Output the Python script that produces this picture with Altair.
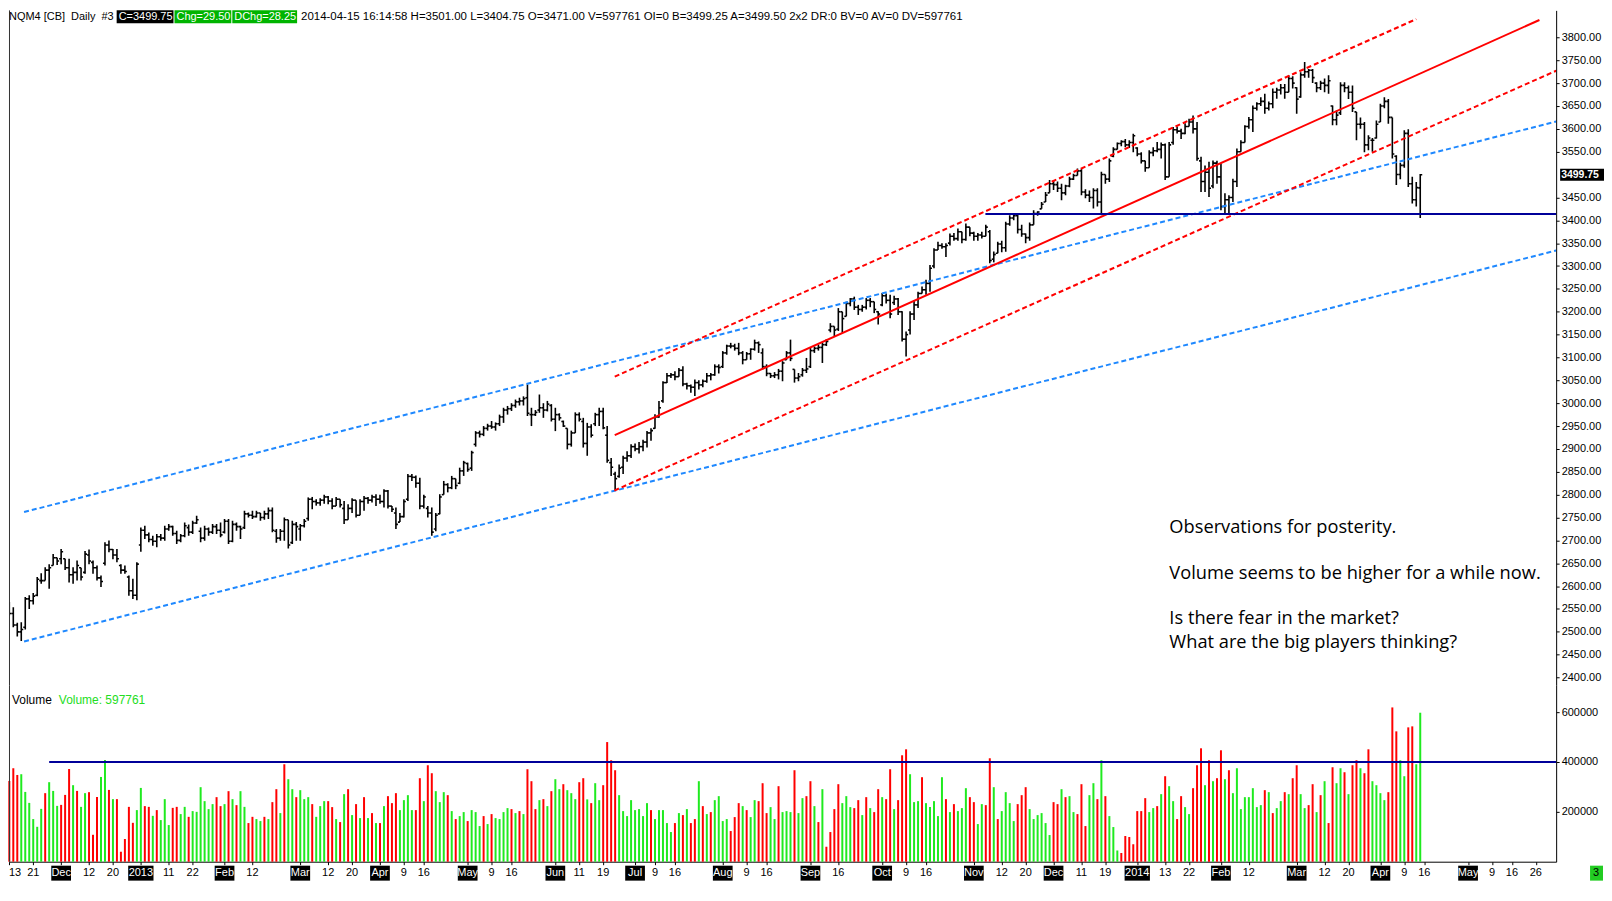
import altair as alt
import pandas as pd

# ---------------- data: daily OHLC bars, NQM4 (O, H, L, C) ----------------
NOV12 = [(2560,2565,2536,2540),(2540,2554,2510,2515),(2515,2520,2490,2500),(2500,2521,2480,2505),
         (2510,2576,2505,2572),(2572,2580,2550,2568),(2568,2585,2560,2578),(2580,2620,2578,2615),
         (2612,2628,2605,2612),(2612,2641,2612,2635),(2635,2648,2594,2640),(2645,2670,2645,2662),
         (2662,2662,2646,2655)]
DEC12 = [(2660,2681,2648,2675),(2660,2660,2635,2640),(2640,2660,2608,2625),(2625,2641,2605,2630),
         (2630,2656,2612,2645),(2640,2640,2612,2620),(2630,2677,2627,2670),(2668,2680,2648,2655),
         (2652,2656,2627,2640),(2640,2645,2612,2618),(2618,2623,2598,2610),(2650,2696,2645,2690),
         (2690,2700,2674,2680),(2680,2681,2659,2668),(2668,2681,2652,2660),(2645,2648,2627,2635),
         (2635,2645,2627,2632),(2620,2623,2579,2590),(2590,2616,2572,2580),(2580,2652,2569,2648)]
JAN13 = [(2690,2728,2675,2722),(2722,2732,2703,2712),(2712,2717,2696,2702),(2702,2710,2688,2698),
         (2698,2714,2685,2708),(2708,2714,2699,2705),(2705,2732,2699,2725),(2725,2736,2721,2730),
         (2730,2732,2710,2715),(2715,2721,2692,2700),(2700,2714,2696,2710),(2710,2739,2707,2732),
         (2728,2735,2710,2718),(2718,2743,2714,2738),(2738,2754,2736,2745),(2720,2728,2696,2705),
         (2705,2732,2699,2725),(2725,2728,2710,2718),(2718,2736,2714,2730),(2730,2736,2714,2722),
         (2722,2739,2707,2712)]
FEB13 = [(2718,2747,2715,2742),(2742,2747,2692,2698),(2698,2743,2696,2735),(2735,2739,2721,2730),
         (2730,2732,2703,2725),(2728,2765,2725,2758),(2758,2761,2750,2755),(2755,2765,2747,2752),
         (2752,2765,2750,2760),(2760,2760,2743,2750),(2750,2765,2745,2758),(2758,2772,2747,2765),
         (2765,2772,2718,2722),(2720,2725,2695,2705),(2705,2725,2699,2720),(2720,2750,2699,2745),
         (2745,2745,2682,2690),(2695,2743,2692,2735),(2735,2740,2699,2730)]
MAR13 = [(2725,2736,2699,2732),(2732,2747,2728,2742),(2748,2794,2743,2790),(2790,2795,2768,2785),
         (2785,2790,2776,2782),(2782,2792,2776,2788),(2788,2800,2780,2795),(2795,2797,2779,2786),
         (2786,2792,2768,2775),(2775,2795,2775,2790),(2790,2790,2772,2778),(2770,2786,2736,2745),
         (2745,2779,2745,2770),(2770,2792,2760,2788),(2788,2788,2750,2755),(2755,2790,2755,2785),
         (2785,2797,2765,2792),(2792,2795,2780,2788),(2788,2800,2783,2795),(2795,2801,2775,2790)]
APR13 = [(2790,2800,2780,2785),(2785,2812,2772,2808),(2808,2810,2770,2775),(2775,2775,2762,2768),
         (2760,2772,2725,2735),(2740,2760,2740,2752),(2752,2790,2750,2785),(2790,2845,2786,2840),
         (2840,2845,2830,2838),(2838,2842,2815,2825),(2825,2837,2768,2775),(2775,2800,2770,2795),
         (2770,2775,2750,2760),(2760,2772,2710,2718),(2725,2760,2720,2755),(2758,2801,2757,2795),
         (2800,2830,2800,2822),(2822,2825,2805,2815),(2815,2841,2812,2835),(2835,2835,2812,2820),
         (2825,2859,2823,2852),(2852,2874,2841,2870)]
MAY13 = [(2868,2870,2850,2855),(2858,2896,2852,2892),(2910,2939,2905,2935),(2935,2940,2925,2932),
         (2932,2950,2928,2945),(2945,2955,2940,2950),(2950,2961,2944,2948),(2948,2958,2940,2955),
         (2955,2975,2950,2970),(2970,2990,2957,2985),(2985,2994,2975,2988),(2988,3000,2983,2995),
         (2995,3008,2990,3003),(3003,3012,2995,3005),(3005,3015,2995,3010),(3012,3041,2972,2978),
         (2975,2990,2950,2975),(2975,2985,2972,2980),(2985,3019,2979,2990),(2990,3000,2968,2985),
         (2985,3005,2982,2998),(2995,2998,2960,2965)]
JUN13 = [(2965,2990,2939,2975),(2975,2978,2962,2968),(2960,2962,2948,2950),(2945,2945,2899,2910),
         (2910,2940,2905,2935),(2935,2980,2935,2975),(2975,2980,2960,2965),(2960,2968,2903,2912),
         (2912,2957,2885,2948),(2948,2954,2925,2930),(2955,2979,2950,2975),(2975,2990,2950,2982),
         (2982,2990,2943,2946),(2930,2950,2870,2875),(2870,2880,2841,2860),(2845,2850,2810,2835),
         (2840,2866,2837,2858),(2860,2885,2845,2880),(2880,2895,2872,2885),(2885,2910,2880,2905)]
JUL13 = [(2905,2912,2895,2900),(2900,2915,2890,2905),(2905,2920,2895,2915),(2915,2939,2903,2935),
         (2935,2945,2918,2940),(2945,2976,2944,2970),(2970,3005,2968,2990),(3005,3048,3001,3045),
         (3045,3066,3044,3060),(3060,3066,3055,3062),(3062,3070,3050,3058),(3058,3077,3058,3072),
         (3072,3081,3037,3042),(3042,3045,3030,3038),(3038,3041,3023,3035),(3035,3052,3016,3045),
         (3045,3050,3030,3040),(3040,3052,3035,3048),(3048,3066,3045,3060),(3060,3066,3050,3062),
         (3062,3085,3060,3080),(3080,3085,3065,3078)]
AUG13 = [(3080,3114,3077,3110),(3110,3128,3106,3125),(3125,3132,3120,3125),(3125,3130,3115,3120),
         (3120,3132,3105,3110),(3110,3114,3085,3095),(3095,3112,3095,3108),(3108,3120,3095,3118),
         (3118,3139,3115,3132),(3132,3135,3110,3128),(3110,3120,3074,3080),(3080,3085,3059,3065),
         (3065,3066,3055,3060),(3060,3068,3055,3062),(3062,3075,3052,3070),(3070,3092,3048,3088),
         (3095,3114,3095,3110),(3110,3139,3092,3098),(3074,3074,3045,3055),(3055,3066,3048,3058),
         (3062,3077,3058,3072),(3072,3099,3066,3075)]
SEP13 = [(3080,3121,3077,3115),(3115,3124,3110,3120),(3120,3128,3115,3122),(3122,3132,3088,3128),
         (3128,3140,3125,3135),(3160,3175,3155,3168),(3168,3168,3146,3160),(3162,3208,3158,3200),
         (3200,3200,3154,3185),(3190,3222,3190,3218),(3218,3230,3212,3228),(3228,3233,3204,3210),
         (3210,3215,3193,3205),(3205,3215,3200,3210),(3210,3230,3205,3225),(3225,3230,3210,3222),
         (3222,3222,3197,3205),(3200,3201,3172,3195)]
OCT13 = [(3215,3241,3212,3235),(3235,3240,3218,3225),(3225,3237,3186,3195),(3220,3235,3215,3228),
         (3228,3230,3193,3200),(3200,3201,3135,3140),(3140,3157,3102,3150),(3160,3201,3150,3195),
         (3195,3225,3182,3215),(3215,3244,3208,3240),(3240,3255,3240,3248),(3248,3270,3237,3262),
         (3262,3302,3244,3295),(3300,3339,3295,3335),(3335,3353,3335,3345),(3345,3350,3338,3342),
         (3342,3350,3320,3345),(3350,3371,3345,3365),(3365,3372,3355,3360),(3360,3382,3355,3375),
         (3375,3375,3350,3358),(3358,3393,3355,3385),(3385,3385,3365,3372)]
NOV13 = [(3372,3375,3355,3365),(3365,3372,3355,3368),(3368,3375,3360,3365),(3365,3390,3365,3385),
         (3375,3379,3306,3312),(3315,3332,3308,3325),(3328,3353,3328,3348),(3348,3355,3330,3340),
         (3340,3397,3331,3392),(3392,3411,3388,3405),(3405,3415,3400,3410),(3410,3415,3371,3380),
         (3380,3390,3364,3370),(3370,3371,3350,3362),(3362,3395,3355,3390),(3390,3422,3390,3415),
         (3415,3420,3410,3418),(3425,3440,3425,3435),(3440,3462,3440,3455),(3460,3488,3460,3480)]
DEC13 = [(3480,3488,3466,3478),(3478,3485,3462,3470),(3470,3480,3444,3460),(3460,3478,3455,3475),
         (3475,3495,3472,3490),(3490,3502,3488,3498),(3498,3513,3498,3508),(3508,3513,3455,3462),
         (3462,3468,3448,3455),(3455,3465,3440,3450),(3450,3470,3426,3465),(3465,3470,3430,3440),
         (3440,3506,3411,3500),(3500,3500,3480,3490),(3490,3535,3484,3530),(3540,3560,3538,3555),
         (3555,3570,3555,3568),(3568,3575,3562,3572),(3572,3578,3560,3565),(3565,3575,3558,3570),
         (3570,3589,3549,3585)]
JAN14 = [(3558,3560,3540,3545),(3545,3549,3524,3530),(3530,3530,3506,3515),(3515,3553,3515,3548),
         (3548,3560,3540,3552),(3552,3571,3549,3555),(3555,3570,3535,3565),(3565,3568,3488,3495),
         (3495,3571,3495,3565),(3570,3604,3565,3598),(3598,3605,3590,3595),(3595,3600,3578,3590),
         (3590,3612,3588,3605),(3605,3622,3605,3615),(3615,3629,3590,3600),(3600,3615,3530,3535),
         (3530,3539,3462,3485),(3485,3520,3462,3505),(3505,3528,3451,3470),(3475,3531,3470,3525),
         (3525,3530,3480,3495)]
FEB14 = [(3495,3524,3422,3430),(3430,3459,3415,3445),(3445,3455,3412,3450),(3450,3491,3440,3485),
         (3485,3557,3473,3550),(3550,3575,3550,3570),(3570,3608,3570,3605),(3605,3626,3600,3620),
         (3620,3651,3593,3645),(3645,3658,3640,3655),(3655,3669,3650,3660),(3660,3677,3633,3645),
         (3645,3660,3640,3655),(3655,3688,3645,3680),(3680,3690,3666,3685),(3685,3698,3675,3690),
         (3690,3698,3666,3680),(3680,3717,3680,3710),(3710,3715,3688,3700)]
MAR14 = [(3690,3691,3633,3665),(3670,3724,3668,3718),(3718,3746,3712,3725),(3725,3731,3712,3728),
         (3728,3731,3700,3712),(3700,3702,3680,3690),(3690,3705,3685,3700),(3700,3710,3680,3695),
         (3695,3717,3677,3705),(3650,3651,3608,3620),(3620,3640,3608,3630),(3635,3702,3630,3695),
         (3695,3702,3680,3690),(3690,3695,3665,3680),(3680,3695,3637,3645),(3637,3637,3575,3610),
         (3610,3625,3600,3610),(3610,3615,3549,3565),(3565,3586,3553,3580),(3575,3580,3550,3575),
         (3580,3618,3579,3610)]
APR14 = [(3615,3655,3615,3650),(3650,3669,3645,3660),(3660,3665,3611,3625),(3625,3625,3535,3545),
         (3540,3542,3477,3500),(3500,3526,3490,3520),(3520,3597,3515,3590),(3590,3599,3473,3480),
         (3480,3495,3437,3445),(3445,3484,3430,3471.5),(3471,3501,3404.75,3499.75)]

# ---------------- volume (thousands) and bar colours (g = up, r = down) ----------------
VOL_NOV12 = [324,375,348,351,280,236,171,140,212,275,319,284,224]
COL_NOV12 = "rrrggggggrggg"
VOL_DEC12 = [228,268,372,307,284,220,275,279,108,260,340,408,288,251,251,40,91,220,156,207]
COL_DEC12 = "rrrgrggrrrggrgrrrrrg"
VOL_JAN13 = [296,223,220,184,207,167,251,147,216,220,191,220,180,203,200,299,243,211,231,259,223]
COL_JAN13 = "grrgrgggrrggrggggggrr"
VOL_FEB13 = [231,283,251,227,283,220,155,180,171,163,180,171,239,291,195,391,331,291,259]
COL_FEB13 = "grgrggrrggrgrrgrggr"
VOL_MAR13 = [287,251,259,231,180,223,243,243,219,171,159,271,291,187,231,175,259,175,195,155]
COL_MAR13 = "gggrgggrrgrgrgrgrgrg"
VOL_APR13 = [155,223,263,235,275,207,247,267,207,207,335,243,387,355,283,239,279,267,203,171,183,199]
COL_APR13 = "rgrrrggggrrgrrgggrgrgg"
VOL_MAY13 = [163,207,199,143,183,151,191,175,171,199,215,211,195,203,191,371,323,211,247,251,223,283]
COL_MAY13 = "rgggrgrggggrgrgrrrgrgr"
VOL_JUN13 = [331,291,311,287,275,251,319,335,250,235,315,247,307,480,407,367,267,203,183,247]
COL_JUN13 = "ggrgggrrgrggrrrrgggg"
VOL_JUL13 = [207,211,183,235,207,171,207,207,155,119,155,195,187,211,155,171,323,223,191,199,247,263]
COL_JUL13 = "ggggrgggggrgrgrrgrgrgg"
VOL_AUG13 = [163,171,123,179,235,223,207,179,247,243,315,195,219,171,303,199,203,199,367,195,255,263]
COL_AUG13 = "ggrrrgrggrrrggrgggrggr"
VOL_SEP13 = [323,223,159,291,60,119,211,311,235,263,219,215,247,187,259,215,199,291]
COL_SEP13 = "rgrgrrrrgggrrgrgrr"
VOL_OCT13 = [259,251,371,211,247,427,451,351,239,243,339,235,219,243,183,339,251,199,231,203,215,295,259]
COL_OCT13 = "grrgrrrgggrgggggrgrgggr"
VOL_NOV13 = [239,151,231,227,415,299,171,203,279,235,163,231,267,299,211,171,187,195,155,107]
COL_NOV13 = "rggrrgrggggrrrgggggg"
VOL_DEC13 = [239,231,291,259,263,199,191,311,143,267,315,251,407,263,183,139,45,35,103,99,70]
COL_DEC13 = "rrgrggrrrggrgrgggrrrr"
VOL_JAN14 = [203,203,255,199,215,223,271,343,303,243,171,263,219,191,295,387,455,307,407,323,335]
COL_JAN14 = "rrrggrgrggrrggrrrgrgr"
VOL_FEB14 = [447,331,367,275,375,211,259,259,295,219,227,287,279,195,215,243,279,271,335]
COL_FEB14 = "rgrggggggggrgrggrgr"
VOL_MAR14 = [387,271,215,227,311,199,267,323,155,379,315,375,359,271,387,407,375,355,451,323,307]
COL_MAR14 = "rggrrgrgrrggrgrrgrrgg"
VOL_APR14 = [275,247,279,619,523,407,343,539,543,391,597.761]
COL_APR14 = "ggrrrggrrgg"

# ---------------- trend lines: (bar index 1, price 1, bar index 2, price 2) ----------------
BLUE_DASHED = [(3.7, 2762, 388.1, 3616), (3.7, 2479, 388.1, 3334)]
RED_DASHED = [(151.9, 3058, 353.0, 3840), (151.8, 2809, 388.1, 3727)]
RED_SOLID = [(151.9, 2930, 383.9, 3838)]
NAVY_LEVEL = [(244.9, 3413.5, 388.1, 3413.5)]
VOL_LEVEL = [(10.0, 400000, 388.1, 400000)]

# ---------------- date axis labels: (bar index, label, boxed) ----------------
DATE_TICKS = [(0,"13",0),(6,"21",0),(13,"Dec",1),(20,"12",0),(26,"20",0),(33,"2013",1),(40,"11",0),
              (46,"22",0),(54,"Feb",1),(61,"12",0),(73,"Mar",1),(80,"12",0),(86,"20",0),(93,"Apr",1),
              (99,"9",0),(104,"16",0),(115,"May",1),(121,"9",0),(126,"16",0),(137,"Jun",1),(143,"11",0),
              (149,"19",0),(157,"Jul",1),(162,"9",0),(167,"16",0),(179,"Aug",1),(185,"9",0),(190,"16",0),
              (201,"Sep",1),(208,"16",0),(219,"Oct",1),(225,"9",0),(230,"16",0),(242,"Nov",1),(249,"12",0),
              (255,"20",0),(262,"Dec",1),(269,"11",0),(275,"19",0),(283,"2014",1),(290,"13",0),(296,"22",0),
              (304,"Feb",1),(311,"12",0),(323,"Mar",1),(330,"12",0),(336,"20",0),(344,"Apr",1),(350,"9",0),
              (355,"16",0),(366,"May",1),(372,"9",0),(377,"16",0),(383,"26",0)]
PRICE_TICKS = [2400 + 50 * k for k in range(29)]
VOL_TICKS = [200000, 400000, 600000]

HEADER_NAME = "NQM4 [CB]\u00a0\u00a0Daily\u00a0\u00a0#3"
HEADER_C = "C=3499.75"
HEADER_CHG = "Chg=29.50"
HEADER_DCHG = "DChg=28.25"
HEADER_REST = ("2014-04-15 16:14:58 H=3501.00 L=3404.75 O=3471.00 V=597761 OI=0 "
               "B=3499.25 A=3499.50 2x2 DR:0 BV=0 AV=0 DV=597761")
NOTES = ["Observations for posterity.", "Volume seems to be higher for a while now.",
         "Is there fear in the market?", "What are the big players thinking?"]

# ---------------- assemble tables ----------------
months = [NOV12, DEC12, JAN13, FEB13, MAR13, APR13, MAY13, JUN13, JUL13, AUG13, SEP13, OCT13,
          NOV13, DEC13, JAN14, FEB14, MAR14, APR14]
rows = [r for m in months for r in m]
bars = pd.DataFrame(rows, columns=["o", "h", "l", "c"])
bars["i"] = range(len(bars))

vols = [VOL_NOV12, VOL_DEC12, VOL_JAN13, VOL_FEB13, VOL_MAR13, VOL_APR13, VOL_MAY13, VOL_JUN13,
        VOL_JUL13, VOL_AUG13, VOL_SEP13, VOL_OCT13, VOL_NOV13, VOL_DEC13, VOL_JAN14, VOL_FEB14,
        VOL_MAR14, VOL_APR14]
cols = [COL_NOV12, COL_DEC12, COL_JAN13, COL_FEB13, COL_MAR13, COL_APR13, COL_MAY13, COL_JUN13,
        COL_JUL13, COL_AUG13, COL_SEP13, COL_OCT13, COL_NOV13, COL_DEC13, COL_JAN14, COL_FEB14,
        COL_MAR14, COL_APR14]
vlist = [v * 1000 for m in vols for v in m]
clist = [ch for s in cols for ch in s]
n = min(len(vlist), len(clist))
GREEN = "#1FEA1F"
RED = "#FF0000"
vol = pd.DataFrame({"i": range(n), "v": vlist[:n],
                    "col": [GREEN if ch == "g" else RED for ch in clist[:n]]})

def seg_df(segs, color):
    return pd.DataFrame([{"x1": a, "y1": b, "x2": c, "y2": d, "col": color} for a, b, c, d in segs])

ticks = pd.DataFrame(DATE_TICKS, columns=["i", "lab", "box"])
one = pd.DataFrame({"z": [0]})

# ---------------- geometry ----------------
W, H1, H2 = 1552, 677, 177
FONT = "Liberation Sans, Arial, sans-serif"
xs = alt.Scale(domain=[-0.08, 388.1], nice=False, zero=False)
ps = alt.Scale(domain=[2383.2, 3859.1], nice=False, zero=False)
vs = alt.Scale(domain=[0, 708000], nice=False, zero=False)

PAXIS = alt.Axis(orient="right", values=[p for p in PRICE_TICKS if p != 3500], format=".2f",
                 title=None, grid=False, tickSize=3, labelPadding=2, labelOverlap=False,
                 labelFont=FONT, labelFontSize=11, labelColor="black",
                 domainColor="black", tickColor="black")
VAXIS = alt.Axis(orient="right", values=VOL_TICKS, format="d", title=None, grid=False,
                 tickSize=3, labelPadding=2, labelFont=FONT, labelFontSize=11,
                 labelColor="black", domainColor="black", tickColor="black")
XAXIS = alt.Axis(values=[t[0] for t in DATE_TICKS], labels=False, tickSize=3, title=None,
                 grid=False, domainColor="black", tickColor="black")

def X(f):
    return alt.X(f, type="quantitative", scale=xs, axis=None)

def P(f):
    return alt.Y(f, type="quantitative", scale=ps, axis=PAXIS)

# ---------------- price panel ----------------
hl = alt.Chart(bars).mark_rule(color="black", strokeWidth=1.6, clip=True).encode(
    x=X("i"), y=P("l"), y2="h:Q")
op = alt.Chart(bars).transform_calculate(a="datum.i - 0.5").mark_rule(
    color="black", strokeWidth=1.6, clip=True).encode(x=X("a"), x2="i:Q", y=P("o"))
cl = alt.Chart(bars).transform_calculate(b="datum.i + 0.5").mark_rule(
    color="black", strokeWidth=1.6, clip=True).encode(x=X("i"), x2="b:Q", y=P("c"))

def lines(df, dash=None, width=2):
    kw = dict(strokeWidth=width, clip=True)
    if dash:
        kw["strokeDash"] = dash
    return alt.Chart(df).mark_rule(**kw).encode(
        x=X("x1"), x2="x2:Q", y=P("y1"), y2="y2:Q", color=alt.Color("col:N", scale=None))

blue = lines(seg_df(BLUE_DASHED, "#1E88FF"), dash=[5, 3])
redd = lines(seg_df(RED_DASHED, "#FF0000"), dash=[5, 3])
reds = lines(seg_df(RED_SOLID, "#FF0000"))
navy = lines(seg_df(NAVY_LEVEL, "#000099"))

def box(x1, x2, y1, y2, color):
    return alt.Chart(one).mark_rect(color=color).encode(
        x=alt.value(x1), x2=alt.value(x2), y=alt.value(y1), y2=alt.value(y2))

def label(txt, x, y, color="black", size=11.5, font=FONT, weight="normal", align="left"):
    return alt.Chart(pd.DataFrame({"t": [txt]})).mark_text(
        align=align, baseline="middle", font=font, fontSize=size, color=color,
        fontWeight=weight).encode(x=alt.value(x), y=alt.value(y), text="t:N")

HY = 6.5
HS = 11
header = [
    label(HEADER_NAME, 0, HY, size=HS),
    box(108, 165, 0, 13, "black"), label(HEADER_C, 110, HY, color="white", size=HS),
    box(166, 223, 0, 13, "#00B400"), label(HEADER_CHG, 168, HY, color="white", size=HS),
    box(224, 289, 0, 13, "#00B400"), label(HEADER_DCHG, 226, HY, color="white", size=HS),
    label(HEADER_REST, 293, HY, size=11.5),
]

NX = 1164
NF = 18.3
notes = [label(NOTES[0], NX, 519, size=NF, font="Open Sans"),
         label(NOTES[1], NX, 565, size=NF, font="Open Sans"),
         label(NOTES[2], NX, 611, size=NF, font="Open Sans"),
         label(NOTES[3], NX, 635, size=NF, font="Open Sans")]

last = pd.DataFrame({"p": [bars["c"].iloc[-1]], "t": ["%.2f" % bars["c"].iloc[-1]]})
last_box = alt.Chart(last).transform_calculate(p1="datum.p - 13", p2="datum.p + 13").mark_rect(
    color="black").encode(x=alt.value(W + 4), x2=alt.value(W + 48), y=P("p1"), y2="p2:Q")
last_txt = alt.Chart(last).mark_text(align="left", baseline="middle", font=FONT, fontSize=10.5,
                                     fontWeight="bold", color="white").encode(
    x=alt.value(W + 5), y=P("p"), text="t:N")

left1 = alt.Chart(one).mark_rule(color="#333333", strokeWidth=1).encode(
    x=alt.value(0.5), y=alt.value(0), y2=alt.value(H1))

price = alt.layer(hl, op, cl, blue, redd, reds, navy, left1, *header, *notes, last_box, last_txt
                  ).properties(width=W, height=H1)

# ---------------- volume panel ----------------
vb = alt.Chart(vol).transform_calculate(z="0").mark_rule(strokeWidth=2).encode(
    x=alt.X("i:Q", scale=xs, axis=XAXIS),
    y=alt.Y("v:Q", scale=vs, axis=VAXIS), y2="z:Q",
    color=alt.Color("col:N", scale=None))
vline = alt.Chart(seg_df(VOL_LEVEL, "#000099")).mark_rule(strokeWidth=2, clip=True).encode(
    x=alt.X("x1:Q", scale=xs, axis=XAXIS), x2="x2:Q",
    y=alt.Y("y1:Q", scale=vs, axis=VAXIS), y2="y2:Q", color=alt.Color("col:N", scale=None))
vlab = [label("Volume", 3, 15, size=12),
        label("Volume: %d" % round(vlist[-1]), 50, 15, size=12, color="#22DD22")]

LY = H2 + 11.5
boxed = alt.Chart(ticks).transform_filter("datum.box == 1").transform_calculate(
    a="datum.i - (length(datum.lab) * 5.6 + 3) / 8",
    b="datum.i + (length(datum.lab) * 5.6 + 3) / 8").mark_rect(color="black").encode(
    x=alt.X("a:Q", scale=xs, axis=XAXIS), x2="b:Q", y=alt.value(H2 + 4), y2=alt.value(H2 + 19))
boxed_t = alt.Chart(ticks).transform_filter("datum.box == 1").mark_text(
    baseline="middle", font=FONT, fontSize=11, color="white").encode(
    x=alt.X("i:Q", scale=xs, axis=XAXIS), y=alt.value(LY), text="lab:N")
plain_t = alt.Chart(ticks).transform_filter("datum.box == 0 && datum.i > 0").mark_text(
    baseline="middle", font=FONT, fontSize=11, color="black").encode(
    x=alt.X("i:Q", scale=xs, axis=XAXIS), y=alt.value(LY), text="lab:N")
first_t = alt.Chart(ticks).transform_filter("datum.i == 0").mark_text(
    align="left", baseline="middle", font=FONT, fontSize=11, color="black").encode(
    x=alt.value(0), y=alt.value(LY), text="lab:N")

corner = [box(1586, 1599, H2 + 4, H2 + 19, "#22CC22"), label("3", 1589, LY, size=11)]
left2 = alt.Chart(one).mark_rule(color="#333333", strokeWidth=1).encode(
    x=alt.value(0.5), y=alt.value(0), y2=alt.value(H2))

volume = alt.layer(vb, vline, left2, *vlab, boxed, boxed_t, plain_t, first_t, *corner
                   ).properties(width=W, height=H2)

chart = alt.vconcat(price, volume, spacing=0, bounds="flush").properties(
    padding=0, background="white"
).configure_view(stroke=None)

chart.save("out.html", embed_options={"renderer": "svg", "actions": False})
